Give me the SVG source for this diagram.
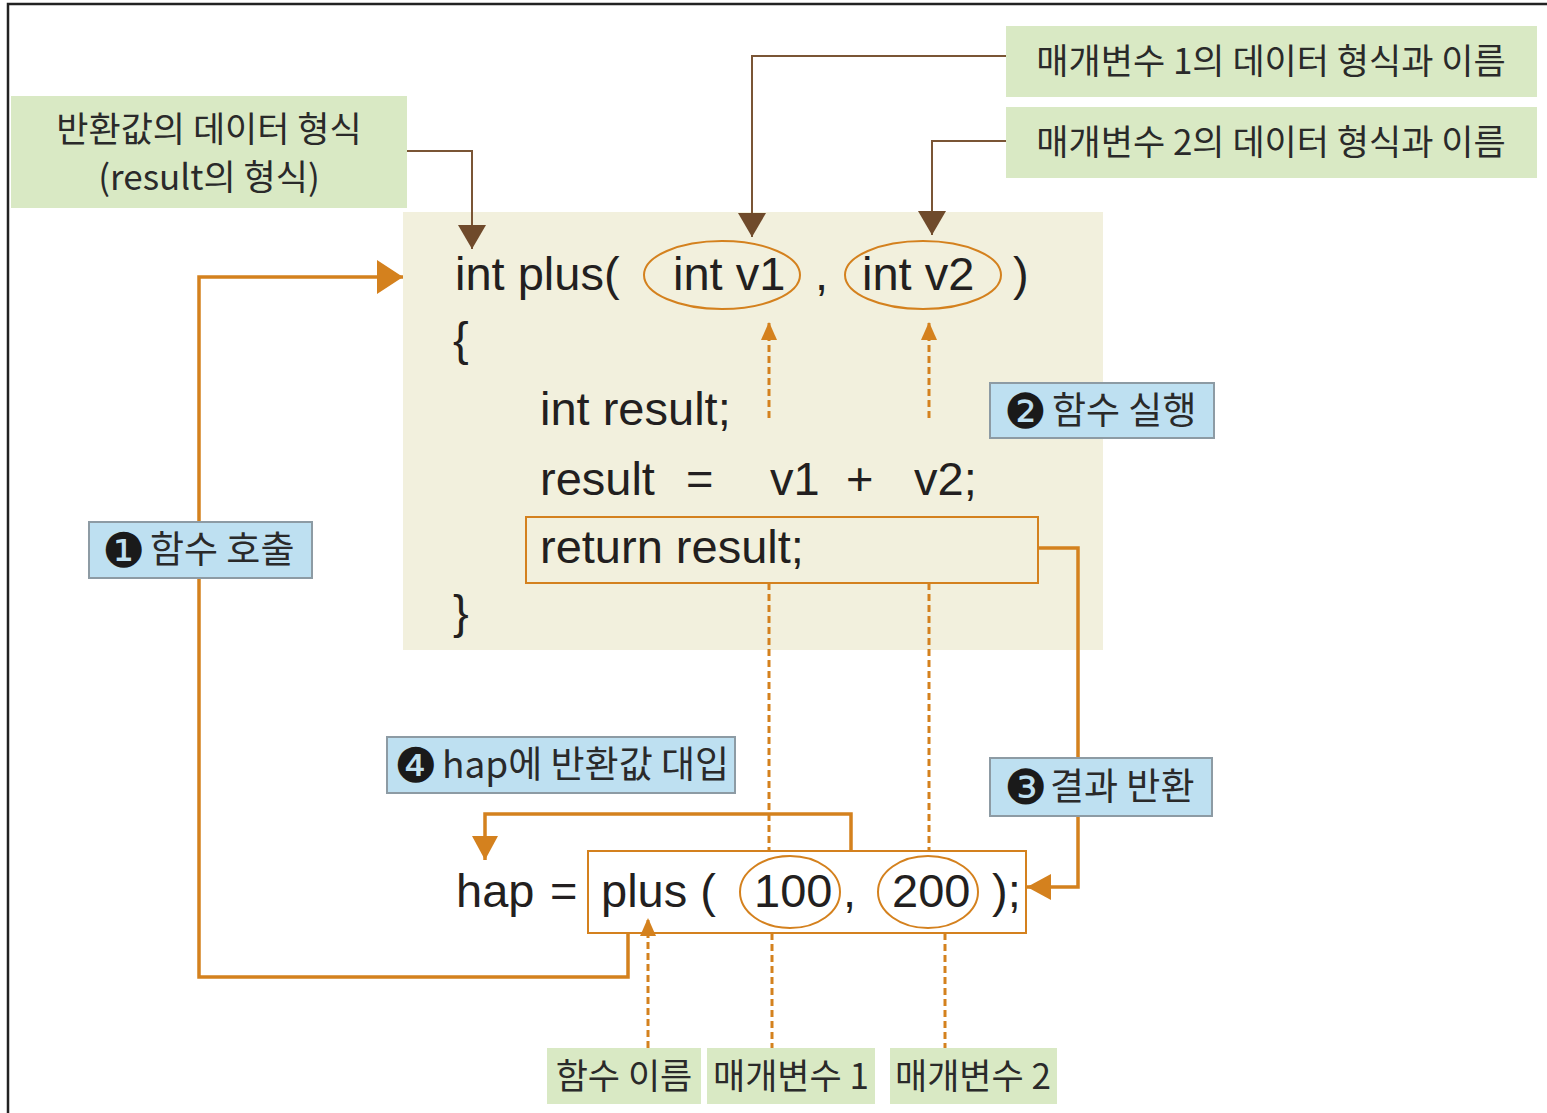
<svg xmlns="http://www.w3.org/2000/svg" width="1547" height="1113" viewBox="0 0 1547 1113">
<style>
.code{font-family:"Liberation Sans",Arial,sans-serif;font-size:47px;fill:#231f20}
.ko{font-family:"Noto Sans CJK KR","Noto Sans",sans-serif;fill:#2a2a2a}
.g{font-size:35px}
.b{font-size:37px}
.s{font-size:35px}
.num{font-family:"DejaVu Sans","Noto Sans CJK KR",sans-serif;font-size:48px;fill:#1a1a1a}
.green{fill:#d9e9c4}
.blue{fill:#bee0f1;stroke:#8d9ba4;stroke-width:2}
.brown{fill:none;stroke:#7a5535;stroke-width:2}
.or{fill:none;stroke:#d4811e;stroke-width:3.5}
.dot{fill:none;stroke:#d4811e;stroke-width:3;stroke-dasharray:7 4}
.thin{fill:none;stroke:#d4811e;stroke-width:2}
</style>
<defs>
<marker id="ab" markerUnits="userSpaceOnUse" markerWidth="26" markerHeight="30" refX="24" refY="14" orient="auto"><path d="M0,0 L24,14 L0,28 z" fill="#6f4a2b"/></marker>
<marker id="ao" markerUnits="userSpaceOnUse" markerWidth="28" markerHeight="36" refX="26" refY="17" orient="auto"><path d="M0,0 L26,17 L0,34 z" fill="#d4811e"/></marker>
<marker id="am" markerUnits="userSpaceOnUse" markerWidth="26" markerHeight="30" refX="24" refY="13" orient="auto"><path d="M0,0 L24,13 L0,26 z" fill="#d4811e"/></marker>
<marker id="as" markerUnits="userSpaceOnUse" markerWidth="20" markerHeight="20" refX="18" refY="8" orient="auto"><path d="M0,0 L18,8 L0,16 z" fill="#d4811e"/></marker>
</defs>
<rect x="0" y="0" width="1547" height="1113" fill="#ffffff"/>
<path d="M8,1113 V4 H1547" fill="none" stroke="#222" stroke-width="2.5"/>

<g id="code-block">
<rect x="403" y="212" width="700" height="438" fill="#f2f0dd"/>
<text class="code" x="455" y="290">int plus(</text>
<ellipse cx="722" cy="275" rx="78" ry="34" class="thin"/>
<text class="code" x="673" y="290">int v1</text>
<text class="code" x="815" y="290">,</text>
<ellipse cx="923" cy="275" rx="78" ry="34" class="thin"/>
<text class="code" x="862" y="290">int v2</text>
<text class="code" x="1013" y="290">)</text>
<text class="code" x="453" y="355">{</text>
<text class="code" x="540" y="425">int result;</text>
<text class="code" x="540" y="495">result</text>
<text class="code" x="686" y="495">=</text>
<text class="code" x="770" y="495">v1</text>
<text class="code" x="846" y="495">+</text>
<text class="code" x="914" y="495">v2;</text>
<text class="code" x="453" y="628">}</text>
</g>
<g id="return-stmt">
<rect x="526" y="517" width="512" height="66" class="thin"/>
<text class="code" x="540" y="563">return result;</text>
</g>

<g id="connectors">
<path class="brown" d="M407,151 H472 V249" marker-end="url(#ab)"/>
<path class="brown" d="M1006,56 H752 V237" marker-end="url(#ab)"/>
<path class="brown" d="M1006,141 H932 V235" marker-end="url(#ab)"/>
<path class="or" d="M628,933 V977 H199 V277 H403" marker-end="url(#ao)"/>
<path class="or" d="M1038,548 H1078 V887 H1027" marker-end="url(#am)"/>
<path class="or" d="M851,851 V814 H485 V860" marker-end="url(#am)"/>
<path class="dot" d="M769,418 V322" marker-end="url(#as)"/>
<path class="dot" d="M929,418 V322" marker-end="url(#as)"/>
<path class="dot" d="M769,583 V851"/>
<path class="dot" d="M929,583 V851"/>
<path class="dot" d="M648,1048 V918" marker-end="url(#as)"/>
<path class="dot" d="M772,933 V1048"/>
<path class="dot" d="M945,933 V1048"/>
</g>

<g id="call-stmt">
<text class="code" x="456" y="907">hap</text>
<text class="code" x="550" y="907">=</text>
<rect x="588" y="851" width="438" height="82" class="thin" fill="none"/>
<text class="code" x="601" y="907">plus (</text>
<ellipse cx="790" cy="892" rx="50" ry="36" class="thin"/>
<text class="code" x="754" y="907">100</text>
<text class="code" x="843" y="907">,</text>
<ellipse cx="928" cy="892" rx="50" ry="36" class="thin"/>
<text class="code" x="892" y="907">200</text>
<text class="code" x="992" y="907">);</text>
</g>

<g id="note-return-type">
<rect x="11" y="96" width="396" height="112" class="green"/>
<text class="ko g" x="209" y="142" text-anchor="middle">반환값의 데이터 형식</text>
<text class="ko g" x="209" y="190" text-anchor="middle">(result의 형식)</text>
</g>
<g id="note-param1">
<rect x="1006" y="26" width="531" height="71" class="green"/>
<text class="ko g" x="1271" y="74" text-anchor="middle">매개변수 1의 데이터 형식과 이름</text>
</g>
<g id="note-param2">
<rect x="1006" y="107" width="531" height="71" class="green"/>
<text class="ko g" x="1271" y="155" text-anchor="middle">매개변수 2의 데이터 형식과 이름</text>
</g>

<g id="step1">
<rect x="89" y="522" width="223" height="56" class="blue"/>
<text class="num" x="102" y="567">❶</text>
<text class="ko b" x="150" y="563">함수 호출</text>
</g>
<g id="step2">
<rect x="990" y="383" width="224" height="55" class="blue"/>
<text class="num" x="1004" y="428">❷</text>
<text class="ko b" x="1052" y="424">함수 실행</text>
</g>
<g id="step3">
<rect x="990" y="758" width="222" height="58" class="blue"/>
<text class="num" x="1004" y="804">❸</text>
<text class="ko b" x="1050" y="800">결과 반환</text>
</g>
<g id="step4">
<rect x="387" y="737" width="348" height="56" class="blue"/>
<text class="num" x="394" y="782">❹</text>
<text class="ko b" x="442" y="778">hap에 반환값 대입</text>
</g>

<g id="label-fname">
<rect x="547" y="1048" width="154" height="56" class="green"/>
<text class="ko s" x="624" y="1089" text-anchor="middle">함수 이름</text>
</g>
<g id="label-arg1">
<rect x="707" y="1048" width="168" height="56" class="green"/>
<text class="ko s" x="791" y="1089" text-anchor="middle">매개변수 1</text>
</g>
<g id="label-arg2">
<rect x="890" y="1048" width="167" height="56" class="green"/>
<text class="ko s" x="973" y="1089" text-anchor="middle">매개변수 2</text>
</g>
</svg>
